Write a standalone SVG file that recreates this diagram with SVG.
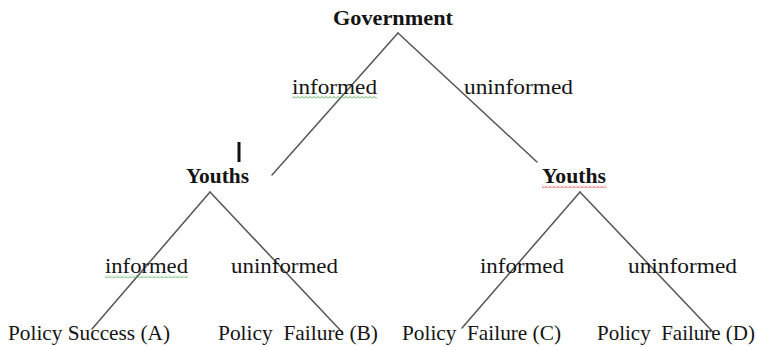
<svg xmlns="http://www.w3.org/2000/svg" width="757" height="347" viewBox="0 0 757 347">
  <style>
    .lbl { font-family: "Liberation Serif", Tinos, "DejaVu Serif", "Times New Roman", serif; font-size: 21px; fill: #141414; }
    .bold { font-weight: bold; }
    .edge { stroke: #555; stroke-width: 1.5; fill: none; stroke-linecap: round; }
  </style>
  <defs>
    <!-- spell-check squiggles -->
    <pattern id="wavy-green" x="0" y="0" width="4" height="3" patternUnits="userSpaceOnUse">
      <path d="M0 2.5 L2 0.5 L4 2.5" fill="none" stroke="#3fa845" stroke-width="0.9"/>
    </pattern>
    <pattern id="wavy-red" x="0" y="0" width="4" height="3" patternUnits="userSpaceOnUse">
      <path d="M0 2.5 L2 0.5 L4 2.5" fill="none" stroke="#e0302a" stroke-width="0.9"/>
    </pattern>
  </defs>
  <rect width="757" height="347" fill="#ffffff"/>

  <!-- connectors -->
  <g id="connectors">
    <line class="edge" x1="398" y1="33" x2="272" y2="175"/>
    <line class="edge" x1="398" y1="33" x2="537" y2="162"/>
    <line class="edge" x1="210" y1="192" x2="92" y2="329"/>
    <line class="edge" x1="210" y1="192" x2="342" y2="332"/>
    <line class="edge" x1="580" y1="192" x2="462" y2="328"/>
    <line class="edge" x1="580" y1="192" x2="713" y2="332"/>
  </g>

  <!-- edge labels -->
  <g id="edge-labels">
    <text class="lbl" x="292" y="94" textLength="85" lengthAdjust="spacingAndGlyphs">informed</text>
    <rect x="292" y="96" width="85" height="3" fill="url(#wavy-green)"/>
    <text class="lbl" x="464" y="94" textLength="109" lengthAdjust="spacingAndGlyphs">uninformed</text>
    <text class="lbl" x="105" y="273" textLength="83" lengthAdjust="spacingAndGlyphs">informed</text>
    <rect x="105" y="275" width="83" height="3" fill="url(#wavy-green)"/>
    <text class="lbl" x="231" y="273" textLength="107" lengthAdjust="spacingAndGlyphs">uninformed</text>
    <text class="lbl" x="480" y="273" textLength="84" lengthAdjust="spacingAndGlyphs">informed</text>
    <text class="lbl" x="628" y="273" textLength="109" lengthAdjust="spacingAndGlyphs">uninformed</text>
  </g>

  <!-- decision nodes -->
  <g id="node-government">
    <text class="lbl bold" x="333" y="25" textLength="120" lengthAdjust="spacingAndGlyphs">Government</text>
  </g>
  <g id="node-youths-left">
    <rect x="237.5" y="142" width="3" height="20" fill="#111"/>
    <text class="lbl bold" x="186" y="183" textLength="63" lengthAdjust="spacingAndGlyphs">Youths</text>
  </g>
  <g id="node-youths-right">
    <text class="lbl bold" x="542" y="183" textLength="64" lengthAdjust="spacingAndGlyphs">Youths</text>
    <rect x="542" y="185" width="64" height="3" fill="url(#wavy-red)"/>
  </g>

  <!-- outcomes -->
  <g id="outcome-a">
    <text class="lbl" x="8" y="340" textLength="162" lengthAdjust="spacingAndGlyphs">Policy Success (A)</text>
  </g>
  <g id="outcome-b">
    <text class="lbl" x="218" y="340" textLength="160" lengthAdjust="spacingAndGlyphs" xml:space="preserve">Policy  Failure (B)</text>
  </g>
  <g id="outcome-c">
    <text class="lbl" x="402" y="340" textLength="159" lengthAdjust="spacingAndGlyphs" xml:space="preserve">Policy  Failure (C)</text>
  </g>
  <g id="outcome-d">
    <text class="lbl" x="597" y="340" textLength="158" lengthAdjust="spacingAndGlyphs" xml:space="preserve">Policy  Failure (D)</text>
  </g>
</svg>
